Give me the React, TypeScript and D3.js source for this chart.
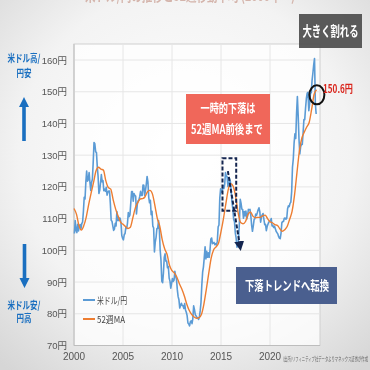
import React from 'react';
import * as d3 from 'd3';

const START_YEAR = 2000;
// Monthly USD/JPY (Jan 2000 – Sep 2024)
const usdJpy: number[] = [
  105.3, 109.4, 106.3, 105.6, 108.2, 106.1, 107.8, 108.1, 106.8, 108.4, 108.9, 112.2,
  116.7, 116.2, 121.5, 125.0, 121.8, 122.2, 124.5, 121.5, 118.9, 121.4, 122.4, 127.6,
  134.0, 133.6, 131.1, 130.8, 126.4, 123.3, 117.9, 118.9, 121.3, 123.9, 121.6, 122.0,
  118.8, 119.3, 118.6, 119.9, 117.4, 118.3, 118.7, 118.7, 114.8, 109.5, 109.2, 107.7,
  106.3, 106.7, 108.5, 107.7, 112.2, 109.4, 109.4, 110.2, 110.1, 108.8, 104.7, 103.8,
  103.3, 104.9, 105.3, 107.3, 106.9, 108.6, 111.9, 110.6, 111.2, 114.9, 118.5, 118.5,
  115.5, 117.9, 117.3, 117.1, 111.5, 114.5, 115.6, 115.9, 117.0, 118.6, 117.3, 117.3,
  120.6, 120.5, 117.3, 118.8, 120.8, 123.3, 121.6, 116.7, 115.0, 115.8, 111.2, 112.3,
  107.6, 107.1, 99.5, 102.6, 104.1, 106.9, 106.9, 109.4, 106.6, 100.1, 96.9, 90.3,
  89.8, 92.9, 97.8, 98.9, 96.6, 96.6, 94.5, 94.9, 91.3, 90.3, 88.1, 89.6,
  91.1, 90.2, 90.6, 93.4, 91.8, 90.9, 87.6, 85.4, 84.4, 81.8, 82.6, 83.3,
  82.6, 82.5, 81.7, 83.2, 81.2, 80.5, 79.4, 77.1, 76.8, 76.2, 77.5, 77.8,
  76.9, 78.5, 82.5, 81.3, 79.7, 79.3, 78.9, 78.7, 78.2, 78.9, 80.9, 83.6,
  89.1, 93.1, 94.8, 97.7, 101.1, 97.3, 99.7, 97.8, 99.2, 97.8, 100.0, 103.5,
  103.9, 102.1, 102.3, 102.5, 101.8, 102.1, 101.7, 102.9, 107.4, 108.0, 116.4, 119.4,
  118.3, 118.8, 120.4, 119.5, 120.8, 124.5, 123.3, 123.2, 120.1, 120.1, 122.6, 121.6,
  118.3, 115.0, 113.0, 109.7, 109.0, 105.5, 103.9, 101.0, 101.9, 103.8, 108.6, 116.1,
  114.9, 113.0, 112.9, 110.1, 112.2, 110.9, 112.4, 109.9, 110.8, 112.9, 112.8, 112.9,
  110.9, 107.9, 106.0, 107.6, 109.7, 110.0, 111.4, 111.1, 111.9, 112.8, 113.4, 112.2,
  108.9, 110.4, 111.2, 111.6, 109.8, 108.1, 108.2, 106.2, 107.5, 108.2, 108.9, 109.1,
  109.3, 110.0, 107.7, 107.8, 107.2, 107.6, 106.8, 106.0, 105.6, 105.2, 104.4, 103.8,
  103.7, 105.4, 108.7, 109.1, 109.1, 110.1, 110.2, 109.8, 110.1, 113.1, 114.0, 113.8,
  114.8, 115.2, 118.5, 126.2, 128.8, 133.9, 136.7, 135.3, 143.1, 148.5, 142.4, 134.9,
  130.4, 132.7, 133.4, 133.4, 137.0, 141.2, 141.2, 144.8, 147.8, 149.6, 149.8, 144.0,
  146.3, 149.5, 149.7, 153.6, 155.9, 158.5, 160.5, 146.3, 143.0,
];

// 52-week moving average, quarterly points from 2000.00 (step 0.25 yr)
const ma52: number[] = [
  113.2, 111.4, 107.9, 106.4, 107.8, 110.5, 114.5, 118.1, 121.5, 125.1,
  126.2, 125.6, 125.3, 121.9, 119.8, 119.3, 115.9, 113.0, 110.8, 108.9,
  108.2, 107.5, 106.9, 107.3, 110.2, 113.3, 115.0, 116.2, 116.3, 116.9,
  118.5, 118.9, 117.8, 114.2, 110.1, 107.6, 103.4, 100.5, 98.7, 95.2,
  93.6, 92.8, 91.5, 89.5, 87.8, 85.7, 83.1, 81.1, 79.8, 79.0,
  78.6, 78.8, 79.8, 83.0, 87.7, 92.8, 97.6, 100.2, 101.1, 102.3,
  105.9, 110.0, 114.8, 119.3, 121.0, 120.1, 116.8, 111.8, 108.8, 108.4,
  109.1, 111.3, 112.1, 110.8, 110.3, 110.4, 110.4, 110.9, 111.1, 110.0,
  109.0, 108.7, 108.1, 107.9, 106.8, 106.0, 106.5, 107.5, 109.8, 112.3,
  117.4, 124.5, 131.4, 135.4, 137.3, 138.9, 140.4, 144.5, 149.2, 150.6,
];

const yTicks = [70, 80, 90, 100, 110, 120, 130, 140, 150, 160];
const xTicks = [2000, 2005, 2010, 2015, 2020];
const legendLabels = ['米ドル/円', '52週MA'];
const lastLabel = '150.6円';

const W = 370, H = 370;
const plot = { left: 74, right: 320, top: 44, bottom: 345.5 };
const JP = '"Noto Sans CJK JP", "Noto Sans", sans-serif';
const NARROW = '"Liberation Sans Narrow", "Liberation Sans", ' + JP;

function CText(props: { x: number; y: number; w: number; size: number; fill: string; children: string; anchor?: string; bold?: boolean; family?: string }) {
  const { x, y, w, size, fill, children, anchor = 'middle', bold = true, family = JP } = props;
  return (
    <text x={x} y={y} textAnchor={anchor} fontFamily={family} fontSize={size} fontWeight={bold ? 'bold' : 'normal'}
      fill={fill} textLength={w} lengthAdjust="spacingAndGlyphs">{children}</text>
  );
}

export default function App() {
  const x = d3.scaleLinear().domain([2000, 2025.1]).range([plot.left, plot.right]);
  const y = d3.scaleLinear().domain([70, 165.05]).range([plot.bottom, plot.top]);

  const fxPts: [number, number][] = usdJpy.map((v, i) => [START_YEAR + i / 12 + 1 / 24, v]);
  const maPts: [number, number][] = ma52.map((v, i) => [START_YEAR + i * 0.25, v]);

  const fxLine = d3.line<[number, number]>().x(d => x(d[0])).y(d => y(d[1]));
  const maLine = d3.line<[number, number]>().x(d => x(d[0])).y(d => y(d[1])).curve(d3.curveMonotoneX);

  const endMa = maPts[maPts.length - 1];
  const cx = x(endMa[0]) + 0.3;
  const cy = y(endMa[1]) + 5;

  const boxX0 = x(2015.15), boxX1 = x(2016.55);
  const boxY0 = y(129), boxY1 = y(112.5);
  const arrStart: [number, number] = [x(2015.7), y(125)];
  const arrEnd: [number, number] = [x(2016.95), y(101)];

  return (
    <div style={{ position: 'fixed', left: 0, top: 0, width: W, height: H }}>
      <svg width={W} height={H} viewBox={`0 0 ${W} ${H}`} style={{ display: 'block' }}>
        <defs>
          <radialGradient id="bg" cx="50%" cy="42%" r="75%">
            <stop offset="0%" stopColor="#ffffff" />
            <stop offset="60%" stopColor="#f3f3f3" />
            <stop offset="100%" stopColor="#d6d6d6" />
          </radialGradient>
          <marker id="ah" viewBox="0 0 10 10" refX="6" refY="5" markerWidth="5" markerHeight="5" orient="auto">
            <path d="M0,0 L10,5 L0,10 z" fill="#14254f" />
          </marker>
        </defs>
        <rect x={0} y={0} width={W} height={H} fill="url(#bg)" />
        {/* faint cut-off title */}
        <text x={190} y={1} textAnchor="middle" fontFamily={JP} fontSize={14} fill="#d4b4ab" fontWeight="bold"
          textLength={210} lengthAdjust="spacingAndGlyphs">
          米ドル/円の推移と52週移動平均 (2000年〜)
        </text>
        {/* plot area */}
        <rect x={plot.left} y={plot.top} width={plot.right - plot.left} height={plot.bottom - plot.top}
          fill="#ffffff" fillOpacity={0.75} stroke="#cfcfcf" strokeWidth={1} />
        {yTicks.map(t => (
          <line key={'gy' + t} x1={plot.left} x2={plot.right} y1={y(t)} y2={y(t)} stroke="#e6e6e6" strokeWidth={1} />
        ))}
        {xTicks.map(t => (
          <line key={'gx' + t} x1={x(t)} x2={x(t)} y1={plot.top} y2={plot.bottom} stroke="#e6e6e6" strokeWidth={1} />
        ))}
        <line x1={plot.left} x2={plot.right} y1={plot.bottom} y2={plot.bottom} stroke="#bdbdbd" />
        <line x1={plot.left} x2={plot.left} y1={plot.top} y2={plot.bottom} stroke="#bdbdbd" />
        {yTicks.map(t => (
          <text key={'ty' + t} x={67} y={y(t) + 3.5} textAnchor="end" fontFamily={NARROW} fontSize={9.5} fill="#555">
            {t}円
          </text>
        ))}
        {xTicks.map(t => (
          <text key={'tx' + t} x={x(t)} y={360} textAnchor="middle" fontFamily={NARROW} fontSize={10} fill="#555">
            {t}
          </text>
        ))}
        {/* series */}
        <path d={fxLine(fxPts) || ''} fill="none" stroke="#5b9bd5" strokeWidth={1.6} strokeLinejoin="round" />
        <path d={maLine(maPts) || ''} fill="none" stroke="#ed7d31" strokeWidth={1.4} />
        {/* legend */}
        <line x1={83} x2={95} y1={300} y2={300} stroke="#5b9bd5" strokeWidth={2} />
        <CText x={97} y={303.5} w={30} size={9.5} fill="#444" anchor="start" bold={false}>{legendLabels[0]}</CText>
        <line x1={83} x2={95} y1={319} y2={319} stroke="#ed7d31" strokeWidth={2} />
        <CText x={97} y={322.5} w={28} size={9.5} fill="#444" anchor="start" bold={false}>{legendLabels[1]}</CText>
        {/* dashed box + arrow */}
        <rect x={boxX0} y={boxY0} width={boxX1 - boxX0} height={boxY1 - boxY0} fill="none"
          stroke="#14254f" strokeWidth={2} strokeDasharray="4,2" />
        <line x1={arrStart[0]} y1={arrStart[1]} x2={arrEnd[0]} y2={arrEnd[1]} stroke="#14254f" strokeWidth={2}
          strokeDasharray="4,2" markerEnd="url(#ah)" />
        {/* circle at end */}
        <ellipse cx={cx} cy={cy} rx={7.5} ry={9.5} fill="none" stroke="#111" strokeWidth={2} />
        <CText x={323} y={93} w={30} size={11} fill="#d9251c" anchor="start">{lastLabel}</CText>
        {/* annotation boxes */}
        <rect x={299} y={14} width={63} height={34} fill="#4d4d4d" fillOpacity={0.92} />
        <CText x={330.5} y={36} w={56} size={14} fill="#fff">大きく割れる</CText>
        <rect x={186} y={94} width={84} height={50} fill="#f0675a" />
        <CText x={228} y={113} w={55} size={12.5} fill="#fff">一時的下落は</CText>
        <CText x={227} y={134} w={72} size={12.5} fill="#fff">52週MA前後まで</CText>
        <rect x={236} y={267} width={101} height={37} fill="#4a5f8f" />
        <CText x={287} y={289.5} w={84} size={13} fill="#fff">下落トレンドへ転換</CText>
        {/* left side labels */}
        <CText x={24} y={62} w={33} size={10.5} fill="#1a6fc0">米ドル高/</CText>
        <CText x={24} y={77} w={15} size={10.5} fill="#1a6fc0">円安</CText>
        <path d="M24,97 L29,107 L25.8,107 L25.8,141 L22.2,141 L22.2,107 L19,107 Z" fill="#1a6fc0" />
        <path d="M24.5,288 L29.5,278 L26.3,278 L26.3,244 L22.7,244 L22.7,278 L19.5,278 Z" fill="#1a6fc0" />
        <CText x={24} y={309} w={33} size={10.5} fill="#1a6fc0">米ドル安/</CText>
        <CText x={24} y={322} w={15} size={10.5} fill="#1a6fc0">円高</CText>
        {/* source */}
        <CText x={283} y={361} w={85} size={5.5} fill="#666" anchor="start" bold={false}>(出所)リフィニティブ社データよりマネックス証券が作成</CText>
      </svg>
    </div>
  );
}
